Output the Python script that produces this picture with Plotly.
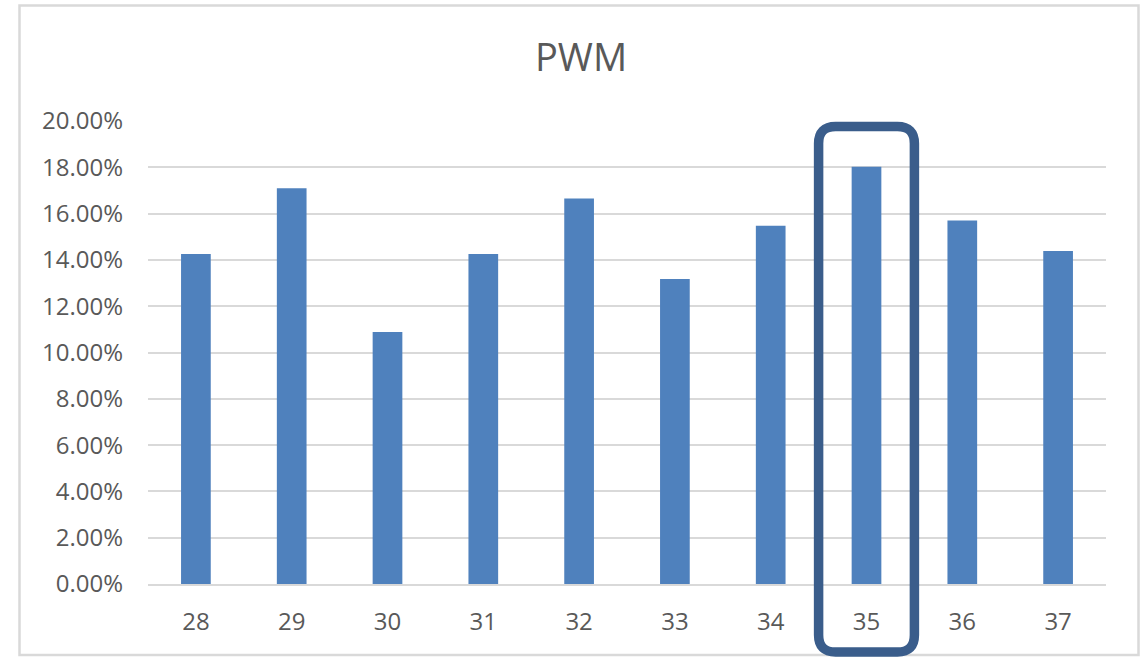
import plotly.graph_objects as go

categories = ["28", "29", "30", "31", "32", "33", "34", "35", "36", "37"]
pwm_values = [0.1425, 0.1710, 0.1089, 0.1425, 0.1665, 0.1317, 0.1548, 0.1802, 0.1570, 0.1438]
highlight_category = "35"

W, H = 1140, 657
ML, MR, MT, MB = 148, 34, 121, 73
PW, PH = W - ML - MR, H - MT - MB

fig = go.Figure()
fig.add_trace(go.Bar(
    x=categories, y=pwm_values,
    marker=dict(color="#4F81BD", line=dict(width=0)),
    hoverinfo="x+y",
))

def px_to_dom(px, py):
    return (px - ML) / PW, (H - MB - py) / PH

# Highlight box around the chosen category (domain coords derived from category index)
n = len(categories)
idx = categories.index(highlight_category)
x0, x1 = idx / n, (idx + 1) / n
_, y1 = px_to_dom(0, 126.5)
_, y0 = px_to_dom(0, 652)
rx = 17 / PW
ry = 17 / PH
path = (f"M {x0} {y1 - ry} Q {x0} {y1} {x0 + rx} {y1} "
        f"L {x1 - rx} {y1} Q {x1} {y1} {x1} {y1 - ry} "
        f"L {x1} {y0 + ry} Q {x1} {y0} {x1 - rx} {y0} "
        f"L {x0 + rx} {y0} Q {x0} {y0} {x0} {y0 + ry} Z")
fig.add_shape(type="path", path=path, xref="x domain", yref="y domain",
              line=dict(color="#3A5D8B", width=9.5), fillcolor="rgba(0,0,0,0)")

# Chart border
bx0, by1 = px_to_dom(19.5, 5.5)
bx1, by0 = px_to_dom(1138.5, 655)
fig.add_shape(type="rect", xref="x domain", yref="y domain",
              x0=bx0, x1=bx1, y0=by0, y1=by1,
              line=dict(color="#D9D9D9", width=2.5), layer="below")

fig.update_layout(
    width=W, height=H,
    margin=dict(l=ML, r=MR, t=MT, b=MB),
    paper_bgcolor="white", plot_bgcolor="white",
    bargap=0.69,
    showlegend=False,
    font=dict(family="Open Sans", color="#595959", size=24),
    title=dict(text="PWM", x=581 / W, xanchor="center",
               y=1 - 58 / H, yanchor="middle",
               font=dict(family="Open Sans", size=38, color="#595959")),
)
fig.update_yaxes(range=[0, 0.2], dtick=0.02, tickformat=".2%",
                 showgrid=True, gridcolor="#D9D9D9", gridwidth=1.5,
                 zeroline=False, showline=False, ticks="",
                 ticklabelstandoff=24, tickfont=dict(size=24, color="#595959"))
fig.update_xaxes(type="category", showgrid=False, zeroline=False,
                 showline=True, linecolor="#D9D9D9", linewidth=1.5,
                 ticks="", ticklabelstandoff=15,
                 tickfont=dict(size=24, color="#595959"))

fig.write_html("out.html", config={"displayModeBar": False},
               post_script="document.body.style.margin='0';")
